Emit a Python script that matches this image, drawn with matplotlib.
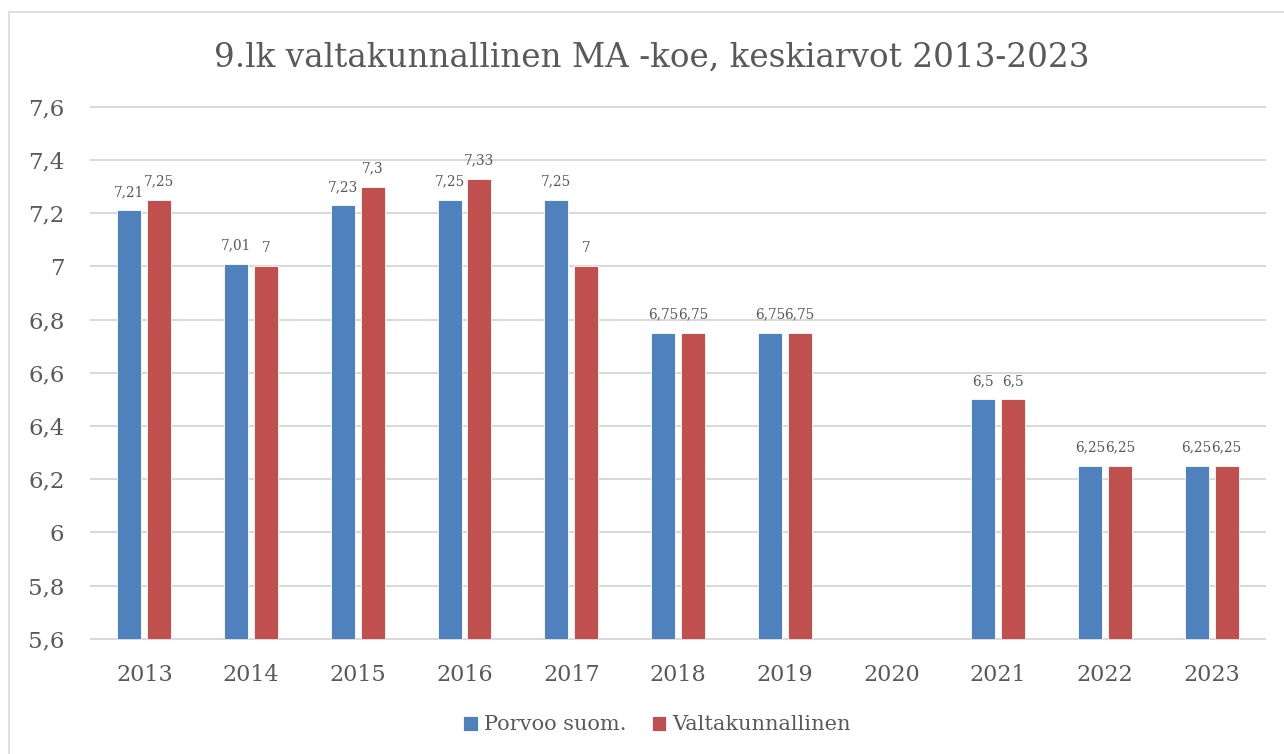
#!/usr/bin/env python

from matplotlib import pyplot as plt
from matplotlib.patches import Rectangle
import numpy

plt.rcParams['font.family'] = ['DejaVu Serif']

years = ['2013', '2014', '2015', '2016', '2017', '2018', '2019', '2020', '2021', '2022', '2023']
porvoo = [7.21, 7.01, 7.23, 7.25, 7.25, 6.75, 6.75, numpy.nan, 6.5, 6.25, 6.25]
valtakunnallinen = [7.25, 7.0, 7.3, 7.33, 7.0, 6.75, 6.75, numpy.nan, 6.5, 6.25, 6.25]
yticks = [5.6, 5.8, 6.0, 6.2, 6.4, 6.6, 6.8, 7.0, 7.2, 7.4, 7.6]

blue = '#4F81BD'
red = '#C0504D'
textcol = '#595959'
gridcol = '#D9D9D9'


def fmt(v):
    return ('%g' % round(v, 2)).replace('.', ',')


fig = plt.figure(figsize=(12.84, 7.54), dpi=100)
W, H = 1284, 754

# chart border
fig.patches.append(Rectangle((9/W, -0.1), 1.1, (H-12)/H + 0.1, transform=fig.transFigure,
                             fill=False, edgecolor=gridcol, linewidth=1.2))

ax = fig.add_axes([91/W, (H-638.7)/H, (1265-91)/W, (638.7-106.7)/H])

x = numpy.arange(len(years))
w = 0.225
off = 0.14
b1 = ax.bar(x - off, porvoo, w, color=blue, edgecolor='white', linewidth=0.6, zorder=3)
b2 = ax.bar(x + off, valtakunnallinen, w, color=red, edgecolor='white', linewidth=0.6, zorder=3)

for xs, vals in ((x - off, porvoo), (x + off, valtakunnallinen)):
    for xi, v in zip(xs, vals):
        if numpy.isnan(v):
            continue
        ax.annotate(fmt(v), (xi, v), xytext=(0, 8), textcoords='offset points',
                    ha='center', va='bottom', fontsize=9.8, color=textcol)

ax.set_xlim(-0.5, len(years) - 0.5)
ax.set_ylim(5.6, 7.6)
ax.set_yticks(yticks)
ax.set_yticklabels([fmt(v) for v in yticks])
ax.set_xticks(x)
ax.set_xticklabels(years)
ax.tick_params(axis='y', length=0, pad=19, labelsize=16.5, labelcolor=textcol)
ax.tick_params(axis='x', length=0, pad=18, labelsize=16, labelcolor=textcol)
ax.grid(axis='y', color=gridcol, linewidth=1.5, zorder=0)
for gl in ax.get_ygridlines():
    gl.set_clip_on(False)
for s in ax.spines.values():
    s.set_visible(False)

fig.text(652/W, 1 - 58/H, '9.lk valtakunnallinen MA -koe, keskiarvot 2013-2023',
         ha='center', va='center', fontsize=23.5, color=textcol)

fig.legend([b1, b2], ['Porvoo suom.', 'Valtakunnallinen'], loc='center',
           bbox_to_anchor=(657/W, 1 - 725/H), ncol=2, frameon=False, fontsize=15,
           labelcolor=textcol, handlelength=0.7, handleheight=0.7, handletextpad=0.3,
           columnspacing=1.2)

fig.savefig('out.png', dpi=100)
